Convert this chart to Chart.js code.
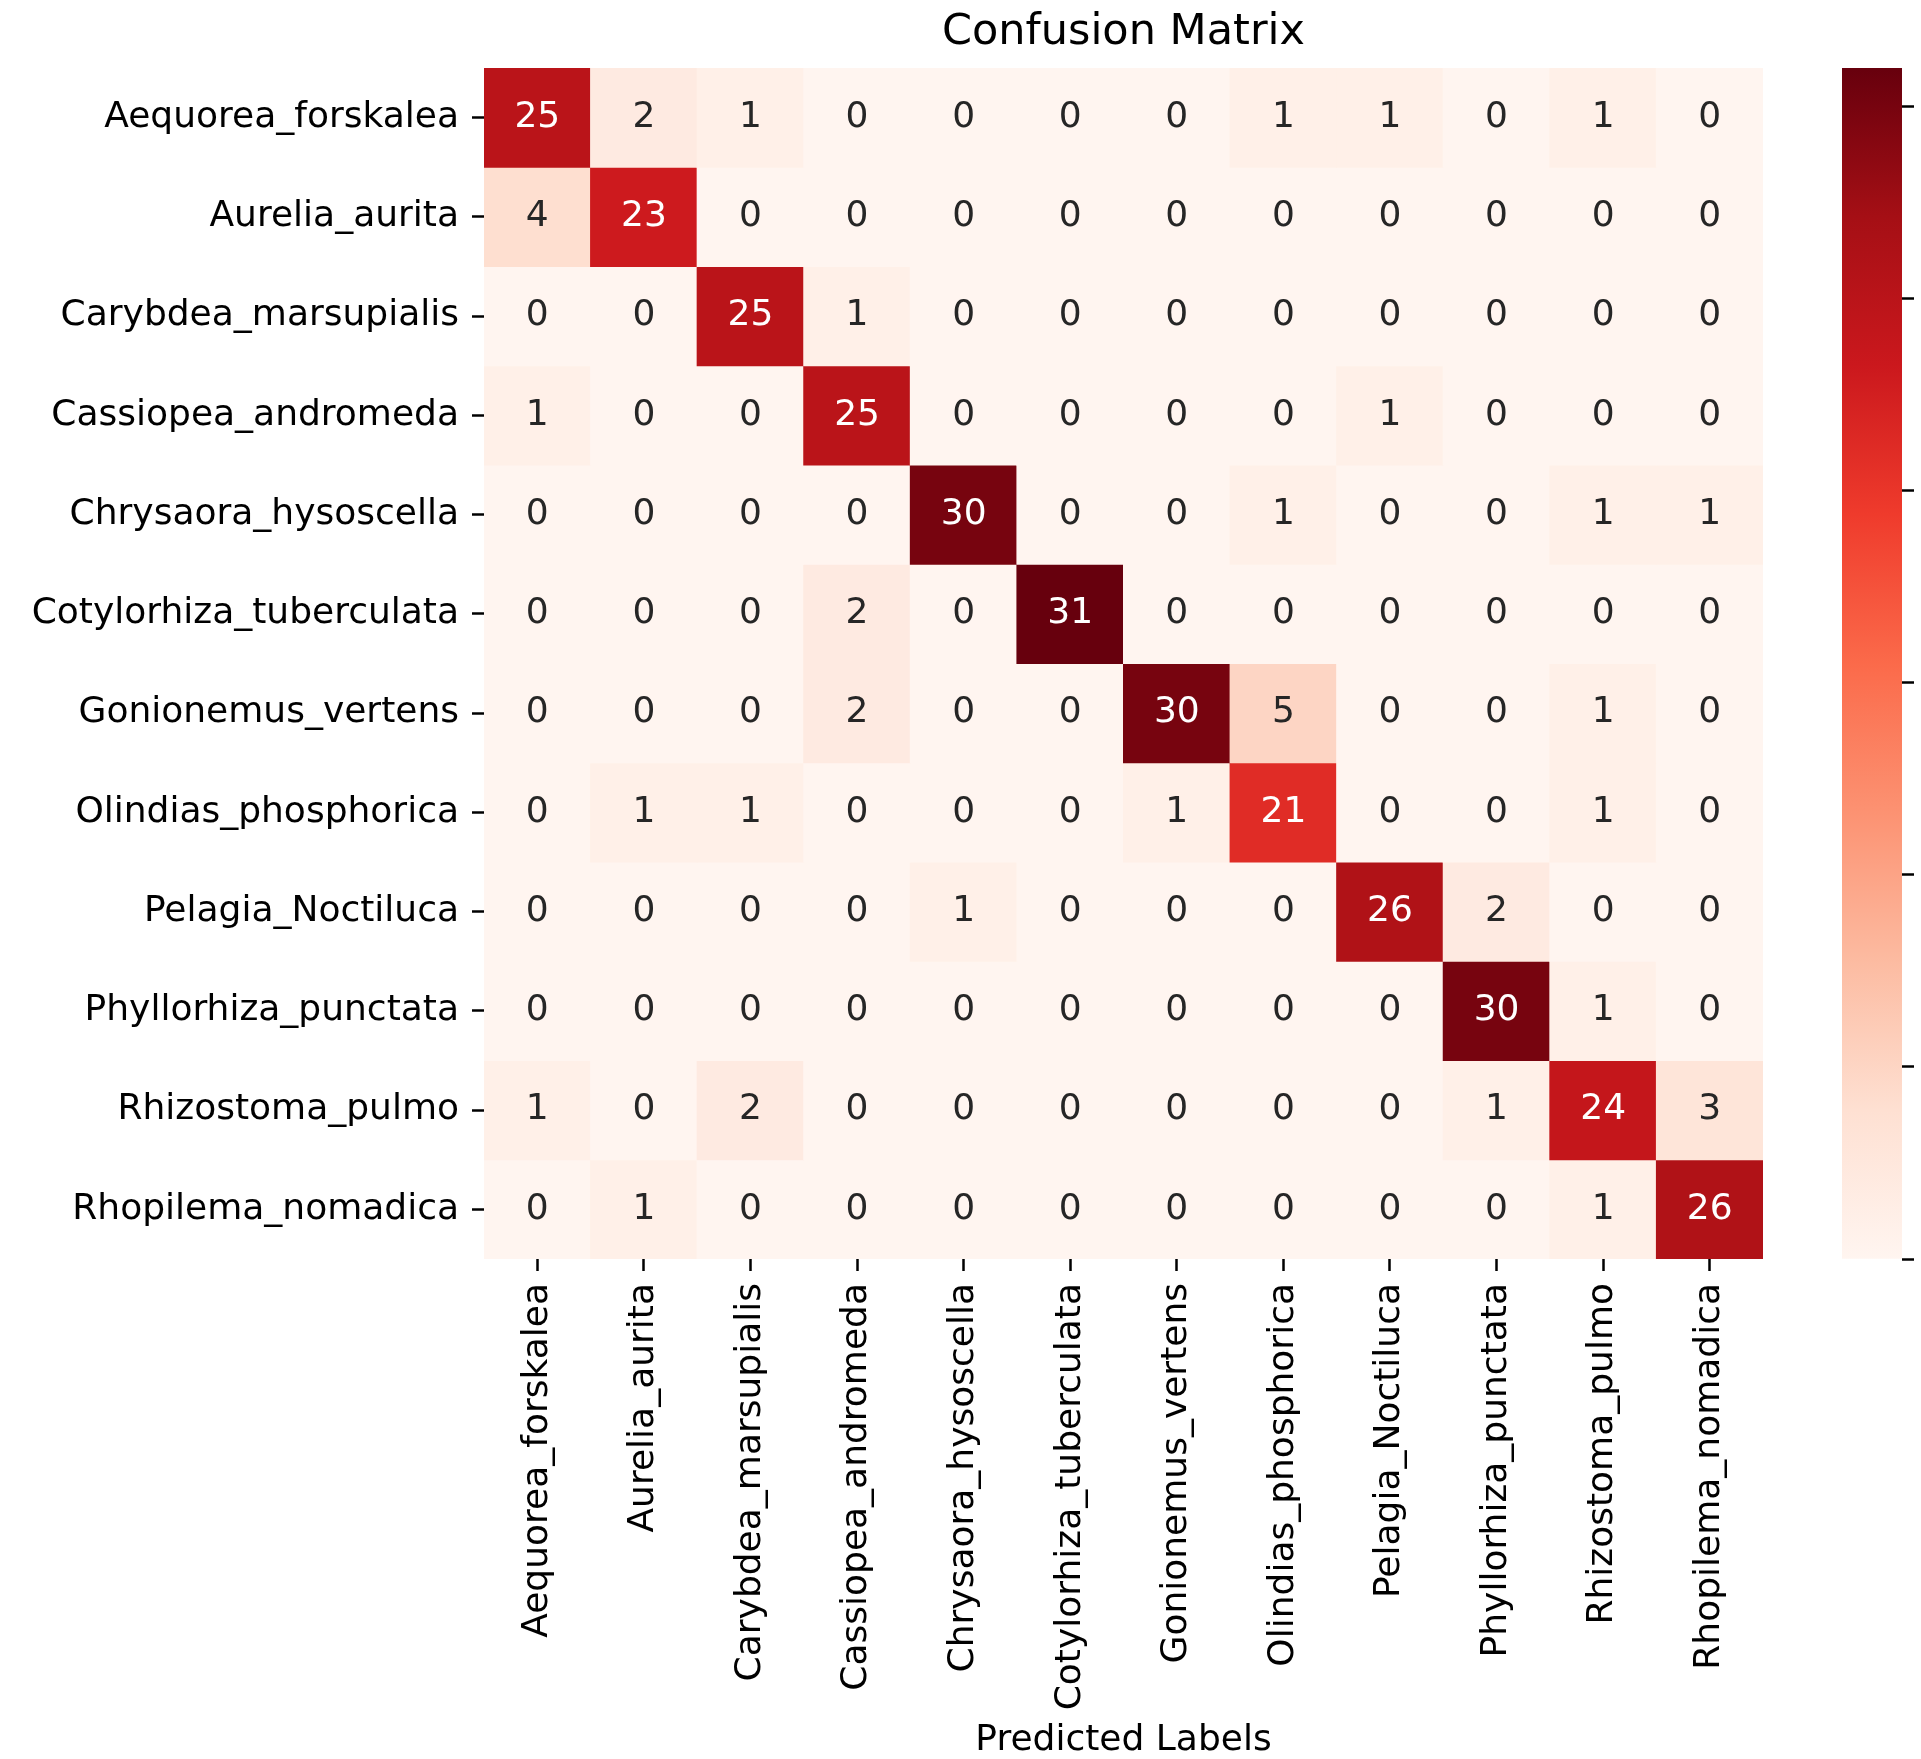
<!DOCTYPE html>
<html>
<head>
<meta charset="utf-8">
<title>Confusion Matrix</title>
<script src="https://cdn.jsdelivr.net/npm/chart.js@4.4.1/dist/chart.umd.min.js"></script>
<style>
  html, body { margin: 0; padding: 0; background: #ffffff; }
  #wrap { position: relative; width: 1921px; height: 1759px; overflow: hidden; }
  #matrix { position: absolute; left: 0; top: 0; }
  #scalebar { position: absolute; left: 1800px; top: 0; }
</style>
</head>
<body>
<div id="wrap">
  <canvas id="matrix" width="1921" height="1759"></canvas>
  <canvas id="scalebar" width="121" height="1759"></canvas>
</div>
<script>
// ---- data ---------------------------------------------------------------
const classLabels = [
  'Aequorea_forskalea', 'Aurelia_aurita', 'Carybdea_marsupialis',
  'Cassiopea_andromeda', 'Chrysaora_hysoscella', 'Cotylorhiza_tuberculata',
  'Gonionemus_vertens', 'Olindias_phosphorica', 'Pelagia_Noctiluca',
  'Phyllorhiza_punctata', 'Rhizostoma_pulmo', 'Rhopilema_nomadica'
];

// rows = true class, columns = predicted class
const confusionCounts = [
  [25,  2,  1,  0,  0,  0,  0,  1,  1,  0,  1,  0],
  [ 4, 23,  0,  0,  0,  0,  0,  0,  0,  0,  0,  0],
  [ 0,  0, 25,  1,  0,  0,  0,  0,  0,  0,  0,  0],
  [ 1,  0,  0, 25,  0,  0,  0,  0,  1,  0,  0,  0],
  [ 0,  0,  0,  0, 30,  0,  0,  1,  0,  0,  1,  1],
  [ 0,  0,  0,  2,  0, 31,  0,  0,  0,  0,  0,  0],
  [ 0,  0,  0,  2,  0,  0, 30,  5,  0,  0,  1,  0],
  [ 0,  1,  1,  0,  0,  0,  1, 21,  0,  0,  1,  0],
  [ 0,  0,  0,  0,  1,  0,  0,  0, 26,  2,  0,  0],
  [ 0,  0,  0,  0,  0,  0,  0,  0,  0, 30,  1,  0],
  [ 1,  0,  2,  0,  0,  0,  0,  0,  0,  1, 24,  3],
  [ 0,  1,  0,  0,  0,  0,  0,  0,  0,  0,  1, 26]
];

const colorbarTicks = [0, 5, 10, 15, 20, 25, 30];
const chartTitle = 'Confusion Matrix';
const xAxisTitle = 'Predicted Labels';

// ---- colour mapping (ColorBrewer "Reds", 9 stops) ------------------------
const redsStops = ['#fff5f0', '#fee0d2', '#fcbba1', '#fc9272', '#fb6a4a',
                   '#ef3b2c', '#cb181d', '#a50f15', '#67000d'];
const colorMin = 0;
const colorMax = Math.max(...confusionCounts.flat());

function hexToRgb(h) {
  const n = parseInt(h.slice(1), 16);
  return [(n >> 16) & 255, (n >> 8) & 255, n & 255];
}
const redsRgb = redsStops.map(hexToRgb);

function redsAt(t) {
  t = Math.min(1, Math.max(0, t));
  const pos = t * (redsRgb.length - 1);
  const i = Math.min(redsRgb.length - 2, Math.floor(pos));
  const f = pos - i;
  const a = redsRgb[i], b = redsRgb[i + 1];
  return [0, 1, 2].map(k => a[k] + (b[k] - a[k]) * f);
}

function cellRgb(count) {
  return redsAt((count - colorMin) / (colorMax - colorMin));
}

function rgbString(rgb) {
  return 'rgb(' + rgb.map(v => Math.round(v)).join(',') + ')';
}

function relativeLuminance(rgb) {
  const lin = rgb.map(v => {
    const c = v / 255;
    return c <= 0.03928 ? c / 12.92 : Math.pow((c + 0.055) / 1.055, 2.4);
  });
  return 0.2126 * lin[0] + 0.7152 * lin[1] + 0.0722 * lin[2];
}

function textColorFor(count) {
  return relativeLuminance(cellRgb(count)) > 0.408 ? '#262626' : '#ffffff';
}

const FONT = '"DejaVu Sans", "Liberation Sans", sans-serif';
const TICK_FONT_SIZE = 36;

// ---- heatmap cells: one floating bar per cell ----------------------------
const datasets = confusionCounts.map((row, r) => ({
  label: classLabels[r],
  data: row.map((count, c) => ({ x: classLabels[c], y: [r, r + 1], count: count })),
  backgroundColor: row.map(count => rgbString(cellRgb(count))),
  borderWidth: 0,
  inflateAmount: 0.5,
  grouped: false,
  barPercentage: 1,
  categoryPercentage: 1
}));

// writes each count in the middle of its cell
const cellText = {
  id: 'cellText',
  afterDatasetsDraw(chart) {
    const ctx = chart.ctx;
    ctx.save();
    ctx.font = TICK_FONT_SIZE + 'px ' + FONT;
    ctx.textAlign = 'center';
    ctx.textBaseline = 'middle';
    chart.data.datasets.forEach((ds, di) => {
      const meta = chart.getDatasetMeta(di);
      meta.data.forEach((bar, i) => {
        const p = bar.getProps(['x', 'y', 'base'], true);
        const count = ds.data[i].count;
        ctx.fillStyle = textColorFor(count);
        ctx.fillText(String(count), p.x, (p.y + p.base) / 2);
      });
    });
    ctx.restore();
  }
};

const tickGrid = {
  drawOnChartArea: false,
  drawTicks: true,
  tickLength: 12,
  tickWidth: 2.5,
  tickColor: '#000000'
};

new Chart(document.getElementById('matrix'), {
  type: 'bar',
  data: { labels: classLabels, datasets: datasets },
  plugins: [cellText],
  options: {
    responsive: false,
    animation: false,
    devicePixelRatio: 1,
    layout: { padding: { left: 0, right: 158, top: 0, bottom: 0 } },
    plugins: {
      legend: { display: false },
      tooltip: { enabled: false },
      title: { display: false }
    },
    scales: {
      // top axis only carries the chart heading, centred over the cells
      top: {
        type: 'category',
        position: 'top',
        border: { display: false },
        grid: { display: false },
        ticks: { display: false },
        title: {
          display: true,
          text: chartTitle,
          color: '#000000',
          font: { family: FONT, size: 43, lineHeight: 1 },
          padding: { top: 11, bottom: 0 }
        },
        afterFit: s => { s.height = 68; }
      },
      x: {
        type: 'category',
        position: 'bottom',
        offset: true,
        border: { display: false },
        grid: Object.assign({ offset: false }, tickGrid),
        ticks: {
          autoSkip: false,
          minRotation: 90,
          maxRotation: 90,
          padding: 12,
          color: '#000000',
          font: { family: FONT, size: TICK_FONT_SIZE }
        },
        title: {
          display: true,
          text: xAxisTitle,
          color: '#000000',
          font: { family: FONT, size: TICK_FONT_SIZE, lineHeight: 1 },
          padding: { top: 0, bottom: 0 }
        },
        afterFit: s => { s.height = 500; }
      },
      y: {
        type: 'linear',
        min: 0,
        max: classLabels.length,
        reverse: true,
        border: { display: false },
        grid: tickGrid,
        afterBuildTicks: s => { s.ticks = classLabels.map((_, i) => ({ value: i + 0.5 })); },
        ticks: {
          autoSkip: false,
          padding: 13,
          color: '#000000',
          font: { family: FONT, size: TICK_FONT_SIZE },
          callback: value => classLabels[Math.floor(value)]
        },
        afterFit: s => { s.width = 484; }
      }
    }
  }
});

// ---- colour bar ----------------------------------------------------------
// the gradient is built once the y scale knows its pixel range
const barGradient = {
  id: 'barGradient',
  afterLayout(chart) {
    const ys = chart.scales.y;
    const y0 = ys.getPixelForValue(colorMin);
    const y1 = ys.getPixelForValue(colorMax);
    if (!isFinite(y0) || !isFinite(y1)) return;
    const g = chart.ctx.createLinearGradient(0, y0, 0, y1);
    redsStops.forEach((c, i) => g.addColorStop(i / (redsStops.length - 1), c));
    chart.data.datasets[0].backgroundColor = g;
  }
};

new Chart(document.getElementById('scalebar'), {
  type: 'bar',
  data: {
    labels: [''],
    datasets: [{
      data: [[colorMin, colorMax]],
      backgroundColor: redsStops[0],
      borderWidth: 0,
      barPercentage: 1,
      categoryPercentage: 1
    }]
  },
  plugins: [barGradient],
  options: {
    responsive: false,
    animation: false,
    devicePixelRatio: 1,
    layout: { padding: { left: 42, right: 0, top: 68, bottom: 500 } },
    plugins: {
      legend: { display: false },
      tooltip: { enabled: false },
      title: { display: false }
    },
    scales: {
      x: { display: false },
      y: {
        type: 'linear',
        position: 'right',
        min: colorMin,
        max: colorMax,
        border: { display: false },
        grid: tickGrid,
        afterBuildTicks: s => { s.ticks = colorbarTicks.map(v => ({ value: v })); },
        ticks: { display: false },
        afterFit: s => { s.width = 19; }
      }
    }
  }
});
</script>
</body>
</html>
